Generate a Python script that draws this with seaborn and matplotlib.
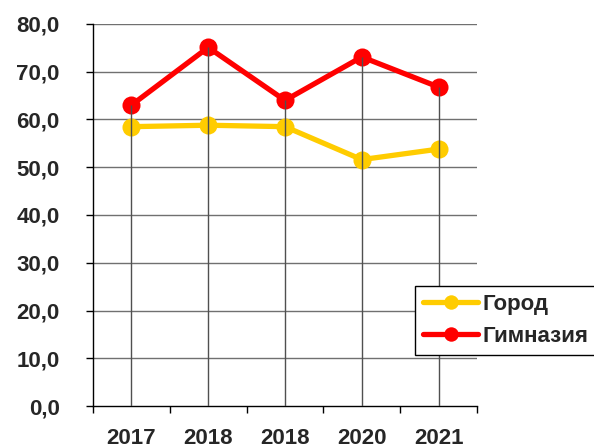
import matplotlib
matplotlib.use("Agg")
import matplotlib.pyplot as plt
import seaborn as sns
import pandas as pd
import numpy as np
from matplotlib.ticker import FixedLocator, FuncFormatter

sns.set_style("white")
plt.rcParams['font.family'] = ['Liberation Sans', 'DejaVu Sans']
plt.rcParams['font.weight'] = 'bold'

years = ["2017", "2018", "2018", "2020", "2021"]
gorod = [58.5, 58.8, 58.5, 51.6, 53.8]
gimnaziya = [63.0, 75.1, 64.0, 73.1, 66.8]
series_names = ["Город", "Гимназия"]
colors = ["#FFCC00", "#FF0000"]

pos = list(range(len(years)))
df = pd.DataFrame({
    "pos": pos * 2,
    "value": gorod + gimnaziya,
    "series": [series_names[0]] * len(years) + [series_names[1]] * len(years),
})

fig = plt.figure(figsize=(5.94, 4.44), dpi=100)
ax = fig.add_axes([93/594, 1 - 406/444, (477-93)/594, (406-24)/444])

# horizontal grid
for v in np.arange(10, 81, 10):
    ax.axhline(v, color="#707070", lw=1.0, zorder=0)

sns.lineplot(data=df, x="pos", y="value", hue="series", palette=colors,
             hue_order=series_names, marker="o", markersize=13, markeredgewidth=0,
             linewidth=3.8, ax=ax, legend=True, zorder=2)

# drop lines from highest point down
tops = np.maximum(gorod, gimnaziya)
ax.vlines(pos, 0, tops, color="#505050", lw=1.0, zorder=3)

ax.set_xlim(-0.5, len(years) - 0.5)
ax.set_ylim(0, 80)
ax.set_xlabel("")
ax.set_ylabel("")

ax.set_xticks(pos)
ax.set_xticklabels(years, fontsize=16, fontweight="bold")
ax.xaxis.set_minor_locator(FixedLocator(np.arange(-0.5, len(years), 1.0)))
ax.tick_params(axis="x", which="major", length=0, pad=16)
ax.tick_params(axis="x", which="minor", length=5, width=1, direction="out", color="black", bottom=True)

ax.set_yticks(np.arange(0, 81, 10))
ax.yaxis.set_major_formatter(FuncFormatter(lambda v, p: f"{v:.1f}".replace(".", ",")))
ax.tick_params(axis="y", length=5, width=1, direction="out", color="black", pad=19, labelsize=16, left=True)
for lbl in ax.get_yticklabels():
    lbl.set_fontweight("bold")

for s in ["top", "right"]:
    ax.spines[s].set_visible(False)
for s in ["left", "bottom"]:
    ax.spines[s].set_color("black")
    ax.spines[s].set_linewidth(1.0)

leg = ax.legend(loc="upper left", bbox_to_anchor=(415/594, 1 - 286/444),
                bbox_transform=fig.transFigure, frameon=True, fancybox=False,
                edgecolor="black", framealpha=1, prop={"size": 16, "weight": "bold"},
                handlelength=2.5, handletextpad=0.2, labelspacing=0.5,
                borderpad=0.35, borderaxespad=0, markerscale=0.8)
leg.get_frame().set_linewidth(1.0)

fig.savefig("out.png", dpi=100)
